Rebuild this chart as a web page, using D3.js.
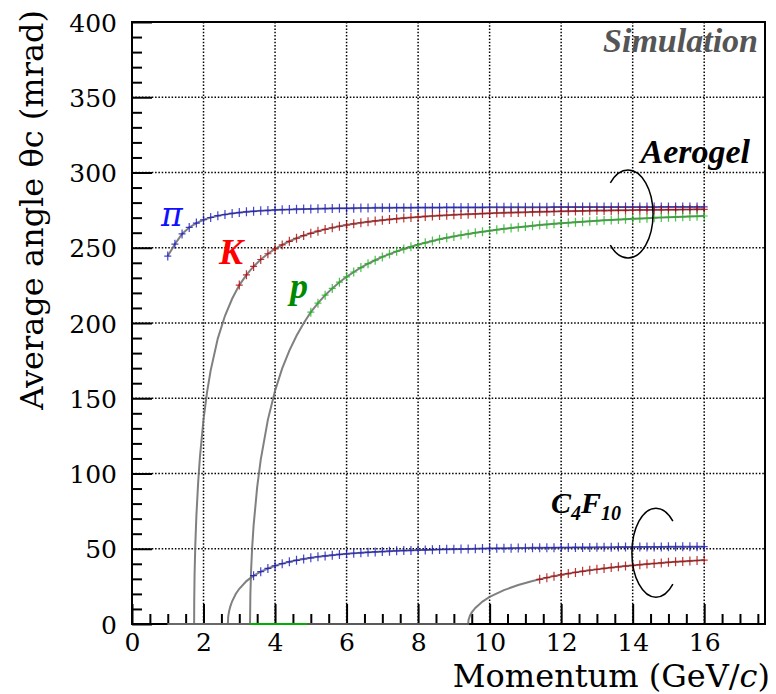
<!DOCTYPE html>
<html>
<head>
<meta charset="utf-8">
<script src="https://cdn.jsdelivr.net/npm/d3@7"></script>
<style>
  body { margin: 0; background: #fff; }
  svg { display: block; }
</style>
</head>
<body>
<svg id="chart" width="776" height="694"></svg>
<script>
// momentum grid of the simulated points (GeV/c)
const momentum = [
  1.0, 1.2, 1.4, 1.6, 1.8, 2.0, 2.2, 2.4, 2.6, 2.8,
  3.0, 3.2, 3.4, 3.6, 3.8, 4.0, 4.2, 4.4, 4.6, 4.8,
  5.0, 5.2, 5.4, 5.6, 5.8, 6.0, 6.2, 6.4, 6.6, 6.8,
  7.0, 7.2, 7.4, 7.6, 7.8, 8.0, 8.2, 8.4, 8.6, 8.8,
  9.0, 9.2, 9.4, 9.6, 9.8, 10.0, 10.2, 10.4, 10.6, 10.8,
  11.0, 11.2, 11.4, 11.6, 11.8, 12.0, 12.2, 12.4, 12.6, 12.8,
  13.0, 13.2, 13.4, 13.6, 13.8, 14.0, 14.2, 14.4, 14.6, 14.8,
  15.0, 15.2, 15.4, 15.6, 15.8, 16.0
];

// aerogel, pion, from 1.0 GeV/c
const pionAerogel = [
  244.5, 252.4, 259.2, 263.5, 266.4, 268.6, 270.1, 271.3, 272.1, 272.8,
  273.4, 273.9, 274.2, 274.6, 274.8, 275.1, 275.3, 275.4, 275.6, 275.7,
  275.8, 275.9, 276.0, 276.1, 276.2, 276.2, 276.3, 276.4, 276.4, 276.5,
  276.5, 276.5, 276.6, 276.6, 276.6, 276.7, 276.7, 276.7, 276.7, 276.8,
  276.8, 276.8, 276.8, 276.8, 276.8, 276.9, 276.9, 276.9, 276.9, 276.9,
  276.9, 276.9, 276.9, 276.9, 277.0, 277.0, 277.0, 277.0, 277.0, 277.0,
  277.0, 277.0, 277.0, 277.0, 277.0, 277.0, 277.0, 277.0, 277.0, 277.1,
  277.1, 277.1, 277.1, 277.1, 277.1, 277.1
];
// aerogel, kaon, from 3.0 GeV/c
const kaonAerogel = [
  225.2, 232.0, 237.6, 242.2, 246.0, 249.2, 251.9, 254.3, 256.3, 258.1,
  259.6, 261.0, 262.2, 263.3, 264.3, 265.1, 265.9, 266.6, 267.2, 267.8,
  268.3, 268.8, 269.3, 269.7, 270.1, 270.4, 270.8, 271.1, 271.4, 271.6,
  271.9, 272.1, 272.3, 272.5, 272.7, 272.9, 273.1, 273.2, 273.4, 273.5,
  273.6, 273.8, 273.9, 274.0, 274.1, 274.2, 274.3, 274.4, 274.5, 274.6,
  274.7, 274.7, 274.8, 274.9, 274.9, 275.0, 275.1, 275.1, 275.2, 275.2,
  275.3, 275.3, 275.4, 275.4, 275.5, 275.5
];
// aerogel, proton, from 5.0 GeV/c
const protonAerogel = [
  207.2, 213.2, 218.5, 223.0, 227.1, 230.7, 233.9, 236.8, 239.4, 241.7,
  243.9, 245.8, 247.6, 249.2, 250.7, 252.1, 253.3, 254.5, 255.6, 256.6,
  257.5, 258.4, 259.2, 260.0, 260.7, 261.3, 262.0, 262.6, 263.1, 263.6,
  264.1, 264.6, 265.1, 265.5, 265.9, 266.3, 266.6, 267.0, 267.3, 267.6,
  267.9, 268.2, 268.5, 268.7, 269.0, 269.2, 269.4, 269.6, 269.9, 270.1,
  270.2, 270.4, 270.6, 270.8, 270.9, 271.1
];
// C4F10, pion, from 3.4 GeV/c
const pionGas = [
  32.1, 34.8, 36.9, 38.7, 40.1, 41.3, 42.3, 43.2, 44.0, 44.7,
  45.2, 45.7, 46.2, 46.6, 47.0, 47.3, 47.6, 47.9, 48.1, 48.4,
  48.6, 48.8, 48.9, 49.1, 49.2, 49.4, 49.5, 49.6, 49.7, 49.8,
  49.9, 50.0, 50.1, 50.2, 50.3, 50.3, 50.4, 50.5, 50.5, 50.6,
  50.6, 50.7, 50.7, 50.8, 50.8, 50.9, 50.9, 50.9, 51.0, 51.0,
  51.0, 51.1, 51.1, 51.1, 51.2, 51.2, 51.2, 51.2, 51.3, 51.3,
  51.3, 51.3, 51.3, 51.4
];
// C4F10, kaon, from 11.4 GeV/c
const kaonGas = [
  29.7, 30.8, 31.8, 32.7, 33.5, 34.3, 35.0, 35.7, 36.3, 36.9,
  37.5, 38.0, 38.5, 38.9, 39.4, 39.8, 40.2, 40.6, 41.0, 41.3,
  41.6, 41.9, 42.2, 42.5
];

// expected-angle curves below the first simulated point (threshold region)
const kaonAerogelLowP = [1.0, 1.737, 1.74, 1.75, 1.77, 1.8, 1.85, 1.9, 2.0, 2.1, 2.2, 2.4, 2.6, 2.8];
const kaonAerogelLow = [0, 0, 15.5, 33.0, 52.4, 71.7, 94.1, 111.0, 135.9, 154.2, 168.5, 189.8, 204.8, 216.1];
const protonAerogelLowP = [1.0, 3.30, 3.31, 3.33, 3.36, 3.4, 3.5, 3.6, 3.8, 4.0, 4.2, 4.4, 4.6, 4.8];
const protonAerogelLow = [0, 0, 19.6, 35.7, 50.8, 65.4, 90.9, 109.2, 135.8, 155.0, 169.8, 181.7, 191.5, 199.8];
const pionGasLowP = [1.0, 2.68, 2.69, 2.7, 2.72, 2.75, 2.8, 2.9, 3.0, 3.2];
const pionGasLow = [0, 0, 4.7, 6.4, 9.0, 11.7, 15.1, 19.9, 23.4, 28.5];
const kaonGasLowP = [1.0, 9.40, 9.41, 9.45, 9.5, 9.6, 9.8, 10.0, 10.4, 10.8, 11.2];
const kaonGasLow = [0, 0, 2.7, 5.5, 7.7, 10.7, 14.9, 18.0, 22.5, 25.9, 28.6];
// proton in C4F10 (below threshold)
const protonGasP = [3.3, 4.9];
const protonGas = [0, 0];

const xMajor = [0, 2, 4, 6, 8, 10, 12, 14, 16];
const yMajor = [0, 50, 100, 150, 200, 250, 300, 350, 400];

const svg = d3.select("#chart");
const x = d3.scaleLinear().domain([0, 17.7]).range([132, 765]);
const y = d3.scaleLinear().domain([0, 400]).range([624, 22]);

const serif = "'DejaVu Serif', serif";
const times = "'Liberation Serif', 'Times New Roman', serif";

// grid
const grid = svg.append("g");
grid.selectAll(".gx").data(xMajor.filter(d => d > 0))
  .enter().append("line")
  .attr("x1", d => x(d)).attr("x2", d => x(d))
  .attr("y1", y(0)).attr("y2", y(400))
  .attr("stroke", "#000").attr("stroke-width", 1.5)
  .attr("stroke-dasharray", "1.5,1.8");
grid.selectAll(".gy").data(yMajor.filter(d => d > 0 && d < 400))
  .enter().append("line")
  .attr("x1", x(0)).attr("x2", x(17.7))
  .attr("y1", d => y(d)).attr("y2", d => y(d))
  .attr("stroke", "#000").attr("stroke-width", 1.5)
  .attr("stroke-dasharray", "1.5,1.8");

// axes (ticks inside the frame)
const xAxis = svg.append("g").attr("transform", `translate(0,${y(0)})`)
  .call(d3.axisBottom(x).tickValues(xMajor).tickSizeInner(-20).tickSizeOuter(0).tickPadding(9).tickFormat(d3.format("d")));
const xMinor = svg.append("g").attr("transform", `translate(0,${y(0)})`)
  .call(d3.axisBottom(x).tickValues(d3.range(0.5, 17.6, 0.5).filter(d => d % 2 !== 0)).tickSizeInner(-10).tickSizeOuter(0).tickFormat(""));
const yAxis = svg.append("g").attr("transform", `translate(${x(0)},0)`)
  .call(d3.axisLeft(y).tickValues(yMajor).tickSizeInner(-20).tickSizeOuter(0).tickPadding(15).tickFormat(d3.format("d")));
const yMinor = svg.append("g").attr("transform", `translate(${x(0)},0)`)
  .call(d3.axisLeft(y).tickValues(d3.range(10, 400, 10).filter(d => d % 50 !== 0)).tickSizeInner(-10).tickSizeOuter(0).tickFormat(""));

[xAxis, xMinor, yAxis, yMinor].forEach(g => {
  g.select(".domain").remove();
  g.selectAll(".tick line").attr("stroke", "#000").attr("stroke-width", 2);
  g.selectAll(".tick text").attr("fill", "#000")
    .style("font-family", serif).style("font-size", "25px");
});
yAxis.selectAll(".tick text").attr("dy", "0.36em");

// frame
svg.append("rect")
  .attr("x", x(0)).attr("y", y(400))
  .attr("width", x(17.7) - x(0)).attr("height", y(0) - y(400))
  .attr("fill", "none").attr("stroke", "#000").attr("stroke-width", 2);

// axis titles
svg.append("text")
  .attr("x", 770).attr("y", 687)
  .attr("text-anchor", "end")
  .style("font-family", serif).style("font-size", "32px")
  .html("Momentum (GeV/<tspan font-style='italic'>c</tspan>)");
svg.append("text")
  .attr("transform", "translate(43,10) rotate(-90)")
  .attr("text-anchor", "end")
  .style("font-family", serif).style("font-size", "32px")
  .text("Average angle θc (mrad)");

const line = d3.line().x(d => x(d[0])).y(d => y(d[1]));

function pairs(ps, vs) { return ps.map((p, i) => [p, vs[i]]); }

const series = [
  { pts: pairs(momentum, pionAerogel), low: [], color: "#1414c8" },
  { pts: pairs(momentum.slice(10), kaonAerogel), low: pairs(kaonAerogelLowP, kaonAerogelLow), color: "#b40000" },
  { pts: pairs(momentum.slice(20), protonAerogel), low: pairs(protonAerogelLowP, protonAerogelLow), color: "#18b818" },
  { pts: pairs(momentum.slice(12), pionGas), low: pairs(pionGasLowP, pionGasLow), color: "#1414c8" },
  { pts: pairs(momentum.slice(52), kaonGas), low: pairs(kaonGasLowP, kaonGasLow), color: "#b40000" }
];

// expected curves
series.forEach(s => {
  svg.append("path")
    .datum(s.low.concat(s.pts))
    .attr("d", line)
    .attr("fill", "none")
    .attr("stroke", "#6a6a6a").attr("stroke-width", 2)
    .attr("stroke-opacity", 0.85);
});

svg.append("path")
  .datum(pairs(protonGasP, protonGas))
  .attr("d", line)
  .attr("fill", "none").attr("stroke", "#00b000").attr("stroke-width", 2);

// markers
const mk = 4.5;
series.forEach(s => {
  svg.append("g").selectAll("path").data(s.pts).enter().append("path")
    .attr("d", d => {
      const px = x(d[0]), py = y(d[1]);
      return `M${px - mk + 1},${py}H${px + mk - 1}M${px},${py - mk}V${py + mk}`;
    })
    .attr("stroke", s.color).attr("stroke-width", 1.2).attr("fill", "none")
    .attr("opacity", 0.8);
});

// ring symbols
function ring(cx, cy, rx, ry, openLeft) {
  const a = Math.PI * 0.75;
  const c = Math.cos(a), s = Math.sin(a);
  if (openLeft) {
    return `M${cx + rx * c},${cy - ry * s}A${rx},${ry} 0 1 1 ${cx + rx * c},${cy + ry * s}`;
  }
  return `M${cx - rx * c},${cy - ry * s}A${rx},${ry} 0 1 0 ${cx - rx * c},${cy + ry * s}`;
}
svg.append("path").attr("d", ring(x(13.87), y(272.4), 25, 44, true))
  .attr("fill", "none").attr("stroke", "#000").attr("stroke-width", 1.5);
svg.append("path").attr("d", ring(x(14.65), y(47.4), 24, 44.5, false))
  .attr("fill", "none").attr("stroke", "#000").attr("stroke-width", 1.5);

// labels
svg.append("text").attr("x", 758).attr("y", 52).attr("text-anchor", "end")
  .style("font-family", times).style("font-size", "34px")
  .style("font-weight", "bold").style("font-style", "italic")
  .attr("fill", "#555").text("Simulation");
svg.append("text").attr("x", 750).attr("y", 163).attr("text-anchor", "end")
  .style("font-family", times).style("font-size", "34px")
  .style("font-weight", "bold").style("font-style", "italic")
  .attr("fill", "#000").text("Aerogel");
svg.append("text").attr("x", 551).attr("y", 513)
  .style("font-family", times).style("font-size", "30px")
  .style("font-weight", "bold").style("font-style", "italic")
  .attr("fill", "#000")
  .html("C<tspan font-size='20px' dy='7'>4</tspan><tspan dy='-7'>F</tspan><tspan font-size='20px' dy='7'>10</tspan>");
svg.append("text").attr("x", 161).attr("y", 226)
  .style("font-family", serif).style("font-size", "33px").style("font-style", "italic")
  .attr("fill", "#1010ff").text("π");
svg.append("text").attr("x", 219).attr("y", 264)
  .style("font-family", times).style("font-size", "36px")
  .style("font-weight", "bold").style("font-style", "italic")
  .attr("fill", "#ff0000").text("K");
svg.append("text").attr("x", 290).attr("y", 298)
  .style("font-family", times).style("font-size", "36px")
  .style("font-weight", "bold").style("font-style", "italic")
  .attr("fill", "#008a00").text("p");
</script>
</body>
</html>
